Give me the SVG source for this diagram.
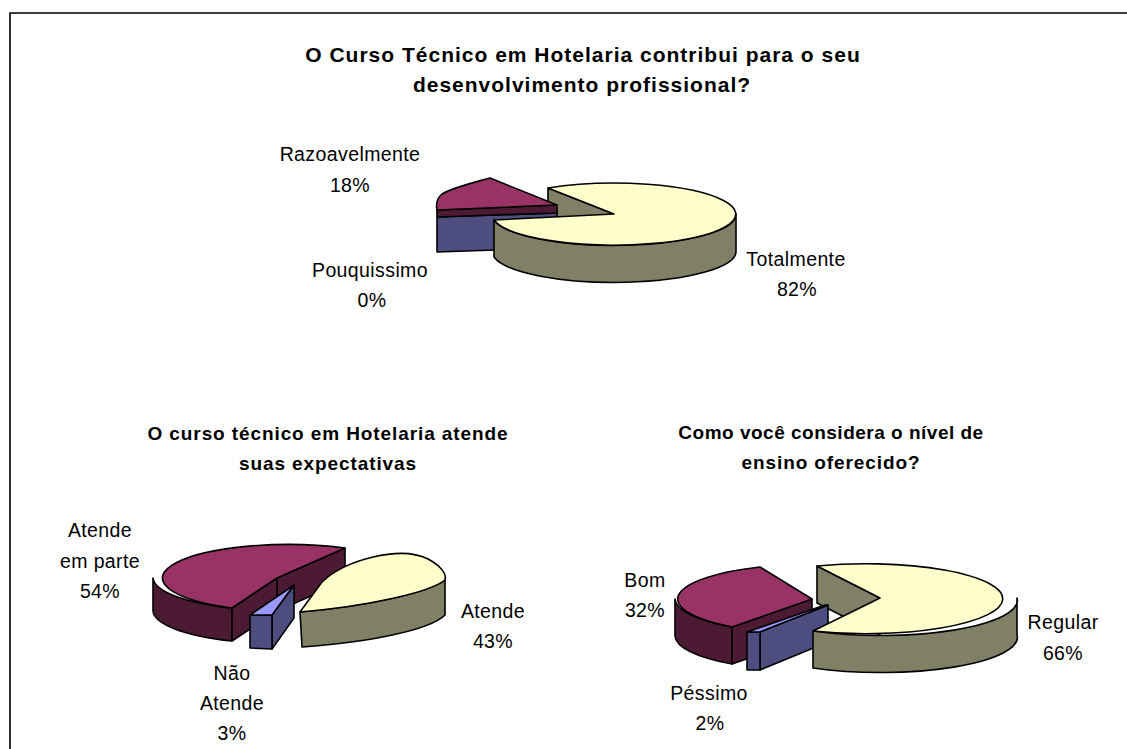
<svg xmlns="http://www.w3.org/2000/svg" width="1127" height="749" viewBox="0 0 1127 749">
<style>
.t{font-family:"Liberation Sans",Arial,sans-serif;font-weight:bold;font-size:19px;letter-spacing:0.9px;fill:#000;text-anchor:middle}
.tt{font-size:21px;letter-spacing:1px}
.l{font-family:"Liberation Sans",Arial,sans-serif;font-size:19.5px;letter-spacing:0.4px;fill:#000;text-anchor:middle}
path,polygon{stroke:#000;stroke-width:1.6;stroke-linejoin:round}
.yt{fill:#FFFFCC}.ys{fill:#808066}.pt{fill:#993366}.ps{fill:#4D1A33}.bt{fill:#9999FF}.bs{fill:#4D4D80}
</style>
<rect x="0" y="0" width="1127" height="749" fill="#fff"/>
<path d="M10,749 L10,13 L1127,13" fill="none" stroke="#000" stroke-width="2.2" style="stroke-linejoin:miter"/>

<g id="chart1">
<text class="t tt" x="583" y="62">O Curso Técnico em Hotelaria contribui para o seu</text>
<text class="t tt" x="582" y="92">desenvolvimento profissional?</text>
<g id="c1-walls">
<polygon class="ys" points="548,188 614,214 614,251 548,225"/>
</g>
<g id="c1-pouquissimo">
<polygon class="bs" points="437,217 557,213 557,248 437,252"/>
</g>
<g id="c1-razoavelmente">
<polygon class="ps" points="437,210 557,205 557,213 437,217"/>
<path class="pt" d="M557,205 L490,178 C468,184 452,188 442,194 C436,199 436,205 437,210 Z"/>
</g>
<g id="c1-totalmente">
<path class="ys" d="M736,214 A122 31 0 0 1 494,220 L494,257 A122 31 0 0 0 736,251 Z"/>
<path class="yt" d="M614,214 L548,188 A122 31 0 1 1 494,220 Z"/>
</g>
<g id="c1-labels">
<text class="l" x="350" y="161">Razoavelmente</text>
<text class="l" x="350" y="192">18%</text>
<text class="l" x="370" y="277">Pouquissimo</text>
<text class="l" x="372" y="307">0%</text>
<text class="l" x="796" y="266">Totalmente</text>
<text class="l" x="797" y="296">82%</text>
</g>
</g>

<g id="chart2">
<text class="t" x="328" y="440">O curso técnico em Hotelaria atende</text>
<text class="t" x="328" y="470">suas expectativas</text>
<g id="c2-atende-em-parte">
<path class="ps" d="M153,578 A124 33 0 0 0 232,608 L232,641 A124 33 0 0 1 153,611 Z"/>
<polygon class="ps" points="277,578 345,548 345,581 277,611"/>
<polygon class="ps" points="232,608 277,578 277,611 232,641"/>
<path class="pt" d="M277,578 L345,548 A124 33 0 1 0 232,608 Z"/>
</g>
<g id="c2-nao-atende">
<polygon class="bs" points="272,615 294,585 294,618 272,649"/>
<polygon class="bs" points="250,615 272,615 272,649 250,648"/>
<polygon class="bt" points="250,615 272,615 294,585"/>
</g>
<g id="c2-atende">
<path class="ys" d="M445,580 C430,592 370,606 300,612 L302,647 C370,642 430,630 445,615 Z"/>
<path class="yt" d="M300,612 L322,582 C345,560 400,545 428,559 C441,566 447,574 445,580 C430,592 370,606 300,612 Z"/>
</g>
<g id="c2-labels">
<text class="l" x="100" y="537">Atende</text>
<text class="l" x="100" y="568">em parte</text>
<text class="l" x="100" y="598">54%</text>
<text class="l" x="493" y="618">Atende</text>
<text class="l" x="493" y="648">43%</text>
<text class="l" x="232" y="680">Não</text>
<text class="l" x="232" y="710">Atende</text>
<text class="l" x="232" y="740">3%</text>
</g>
</g>

<g id="chart3">
<text class="t" x="831" y="439" style="letter-spacing:0.5px">Como você considera o nível de</text>
<text class="t" x="831" y="469">ensino oferecido?</text>
<g id="c3-walls">
<polygon class="ys" points="817,566 880,598 880,635 817,603"/>
</g>
<g id="c3-bom">
<path class="ps" d="M675,599 A137 35 0 0 0 732,627 L732,664 A137 35 0 0 1 675,636 Z"/>
<polygon class="ps" points="732,627 812,599 812,636 732,664"/>
<path class="pt" d="M812,599 L760,567 A137 35 0 0 0 732,627 Z"/>
</g>
<g id="c3-pessimo">
<polygon class="bs" points="760,632 828,605 828,642 760,670"/>
<polygon class="bs" points="747,632 760,632 760,670 747,670"/>
<polygon class="bt" points="747,632 760,632 828,605 825,605"/>
</g>
<g id="c3-regular">
<path class="ys" d="M1017,598 A137 35 0 0 1 813,631 L813,668 A137 35 0 0 0 1017,635 Z"/>
<path class="yt" d="M880,598 L817,566 A137 35 0 1 1 813,631 Z"/>
</g>
<g id="c3-labels">
<text class="l" x="645" y="587">Bom</text>
<text class="l" x="645" y="617">32%</text>
<text class="l" x="1063" y="629">Regular</text>
<text class="l" x="1063" y="660">66%</text>
<text class="l" x="709" y="700">Péssimo</text>
<text class="l" x="710" y="730">2%</text>
</g>
</g>
</svg>
